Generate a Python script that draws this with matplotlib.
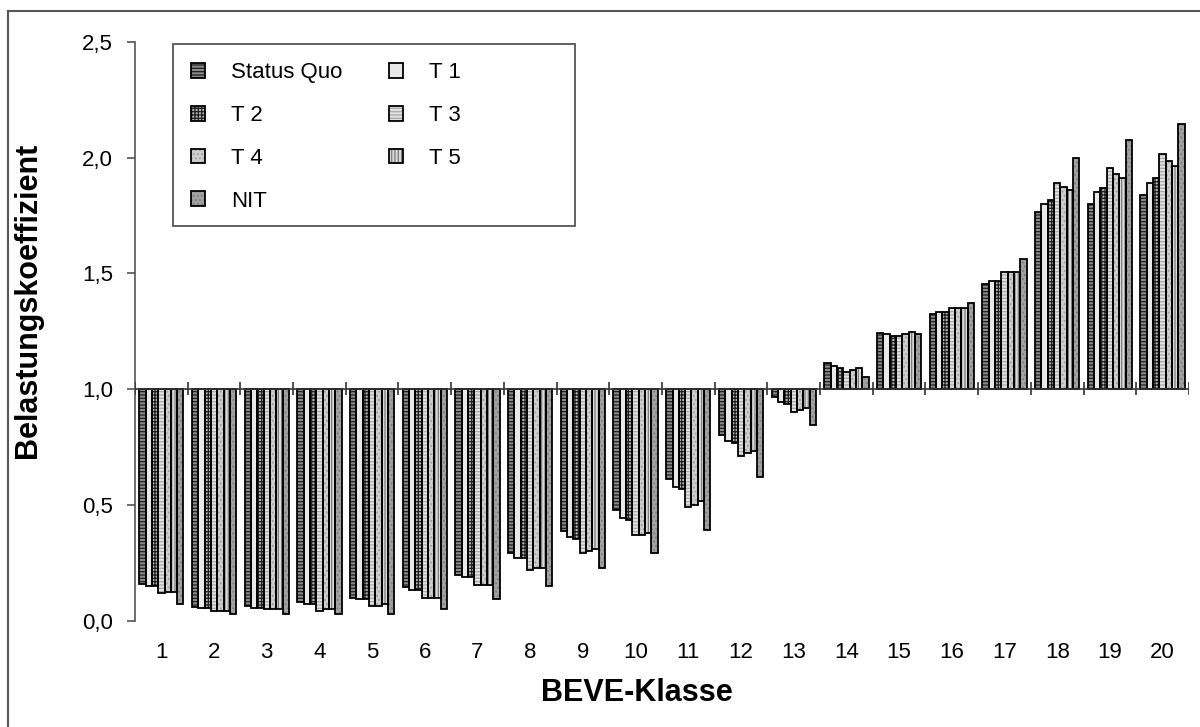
import matplotlib
matplotlib.use("Agg")
import matplotlib.pyplot as plt
from matplotlib.patches import Patch, Rectangle
from matplotlib.lines import Line2D
from matplotlib.legend_handler import HandlerTuple

plt.rcParams['font.family'] = ['Liberation Sans', 'DejaVu Sans']
plt.rcParams['hatch.linewidth'] = 0.9

# data (Belastungskoeffizient per BEVE-Klasse)
classes = list(range(1, 21))
series_names = ["Status Quo", "T 1", "T 2", "T 3", "T 4", "T 5", "NIT"]

status_quo = [0.16, 0.06, 0.065, 0.08, 0.10, 0.148, 0.20, 0.295, 0.39, 0.48,
              0.614, 0.804, 0.967, 1.114, 1.241, 1.327, 1.454, 1.766, 1.80, 1.839]
t1 = [0.15, 0.058, 0.058, 0.074, 0.095, 0.134, 0.19, 0.274, 0.362, 0.444,
      0.577, 0.776, 0.945, 1.10, 1.238, 1.334, 1.467, 1.80, 1.853, 1.89]
t2 = [0.15, 0.058, 0.058, 0.074, 0.095, 0.134, 0.19, 0.274, 0.355, 0.437,
      0.57, 0.769, 0.935, 1.09, 1.232, 1.334, 1.467, 1.816, 1.868, 1.911]
t3 = [0.12, 0.045, 0.05, 0.045, 0.066, 0.10, 0.156, 0.22, 0.295, 0.371,
      0.494, 0.711, 0.90, 1.075, 1.232, 1.349, 1.505, 1.89, 1.956, 2.016]
t4 = [0.125, 0.045, 0.05, 0.05, 0.066, 0.10, 0.156, 0.228, 0.304, 0.371,
      0.502, 0.725, 0.912, 1.083, 1.238, 1.349, 1.505, 1.875, 1.927, 1.986]
t5 = [0.125, 0.045, 0.05, 0.05, 0.074, 0.10, 0.156, 0.228, 0.311, 0.378,
      0.516, 0.735, 0.921, 1.091, 1.247, 1.349, 1.505, 1.858, 1.911, 1.965]
nit = [0.074, 0.029, 0.029, 0.029, 0.029, 0.05, 0.095, 0.153, 0.228, 0.295,
       0.392, 0.622, 0.846, 1.053, 1.239, 1.373, 1.564, 2.0, 2.074, 2.147]

all_series = [status_quo, t1, t2, t3, t4, t5, nit]

# (facecolor, hatch, hatch colour) per series, imitating the excel fill patterns
styles = [
    ("#8a8a8a", "-----", "#1e1e1e"),
    ("#e8e8e8", "", "#e8e8e8"),
    ("#b5b5b5", "+++++", "#1e1e1e"),
    ("#e2e2e2", "-----", "#a8a8a8"),
    ("#cdcdcd", "....", "#a0a0a0"),
    ("#dadada", "|||||", "#7a7a7a"),
    ("#a2a2a2", "....", "#7e7e7e"),
]

baseline = 1.0
bar_w = 0.12

fig = plt.figure(figsize=(12, 7.27), dpi=100)
ax = fig.add_axes([0.1125, 0.1458, 0.8783, 0.7968])

for i, vals in enumerate(all_series):
    xs = [c + (i - 3) * bar_w for c in classes]
    heights = [v - baseline for v in vals]
    fc, hatch, hc = styles[i]
    ax.bar(xs, heights, bar_w, bottom=baseline, color=fc, hatch=hatch,
           edgecolor=hc, linewidth=0, zorder=2)
    ax.bar(xs, heights, bar_w, bottom=baseline, fill=False,
           edgecolor="black", linewidth=1.3, zorder=3)

# category axis crosses at 1.0
ax.axhline(baseline, color="#333333", linewidth=1.2, zorder=4)
bounds = [c - 0.5 for c in classes] + [classes[-1] + 0.5]
ax.vlines(bounds, baseline - 0.026, baseline + 0.03, color="#333333",
          linewidth=1.2, zorder=4)

ax.set_xlim(0.5, 20.5)
ax.set_ylim(0, 2.5)
yticks = [0.0, 0.5, 1.0, 1.5, 2.0, 2.5]
ax.set_yticks(yticks)
ax.set_yticklabels(["0,0", "0,5", "1,0", "1,5", "2,0", "2,5"])
ax.set_xticks(classes)
ax.set_xticklabels([str(c) for c in classes])
ax.tick_params(axis="x", length=0, pad=15, labelsize=16)
ax.tick_params(axis="y", length=6, width=1.2, color="#555555", pad=10, labelsize=16)

for s in ["top", "right", "bottom"]:
    ax.spines[s].set_visible(False)
ax.spines["left"].set_color("#555555")
ax.spines["left"].set_linewidth(1.2)

fig.text(637 / 1200, 1 - 693 / 727, "BEVE-Klasse", fontsize=22, fontweight="bold",
         ha="center", va="center")
fig.text(28 / 1200, 1 - 300 / 727, "Belastungskoeffizient", fontsize=22,
         fontweight="bold", rotation=90, ha="center", va="center")

# legend, filled row-wise like the original
handles = []
for fc, hatch, hc in styles:
    handles.append((Patch(facecolor=fc, hatch=hatch, edgecolor=hc, linewidth=0),
                    Patch(fill=False, edgecolor="black", linewidth=1.3)))
order = [0, 2, 4, 6, 1, 3, 5]
leg = ax.legend([handles[k] for k in order], [series_names[k] for k in order],
                handler_map={tuple: HandlerTuple(ndivide=1)},
                ncol=2, loc="upper left", bbox_to_anchor=(0.0446, 0.98),
                borderaxespad=0, frameon=False, fontsize=16,
                handlelength=0.65, handleheight=0.65, handletextpad=1.15,
                labelspacing=0.98, columnspacing=2.1)
leg.set_zorder(6)

# legend frame
x0, y0 = 173 / 1200, 1 - 226 / 727
ax_frame = Rectangle((x0, y0), (575 - 173) / 1200, (226 - 44) / 727,
                     transform=fig.transFigure, facecolor="white",
                     edgecolor="#555555", linewidth=1.3, zorder=5)
ax.add_artist(ax_frame)

# outer chart border (cut at right and bottom in the original)
fig.add_artist(Line2D([8 / 1200, 1], [1 - 11 / 727, 1 - 11 / 727],
                      color="#555555", linewidth=1.5))
fig.add_artist(Line2D([8 / 1200, 8 / 1200], [0, 1 - 11 / 727],
                      color="#555555", linewidth=1.5))

fig.savefig("out.png", dpi=100)
